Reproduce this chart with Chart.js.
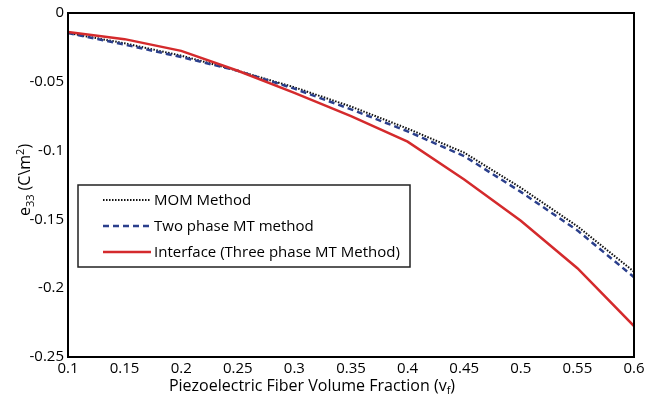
<!DOCTYPE html>
<html>
<head>
<meta charset="utf-8">
<script src="https://cdn.jsdelivr.net/npm/chart.js@4"></script>
<style>
  html, body { margin: 0; padding: 0; background: #fff; }
</style>
</head>
<body>
<canvas id="canvas" width="656" height="400"></canvas>
<script>
const ctx = document.getElementById("canvas");

// volume fraction values (x)
const fractions = [0.1, 0.15, 0.2, 0.25, 0.3, 0.35, 0.4, 0.45, 0.5, 0.55, 0.6];

// e33 values
const momMethod = [-0.0145, -0.022, -0.031, -0.042, -0.054, -0.068, -0.084, -0.1015, -0.127, -0.155, -0.188];
const twoPhaseMT = [-0.0145, -0.023, -0.032, -0.042, -0.055, -0.070, -0.086, -0.104, -0.130, -0.158, -0.192];
const interfaceMT = [-0.0138, -0.019, -0.0275, -0.042, -0.058, -0.075, -0.0935, -0.121, -0.151, -0.1855, -0.2275];

const seriesNames = ["MOM Method", "Two phase MT method", "Interface (Three phase MT Method)"];

const FONT = "'Open Sans', sans-serif";

function toPoints(values) {
  return values.map((v, i) => ({ x: fractions[i], y: v }));
}

const lineStyles = [
  { color: "#111111", width: 2, dash: [1.5, 1.5] },
  { color: "#2b3f8c", width: 2.5, dash: [6, 4] },
  { color: "#d42a2c", width: 2.5, dash: [] },
];

const datasets = [momMethod, twoPhaseMT, interfaceMT].map((vals, i) => ({
  label: seriesNames[i],
  data: toPoints(vals),
  borderColor: lineStyles[i].color,
  borderWidth: lineStyles[i].width,
  borderDash: lineStyles[i].dash,
  pointRadius: 0,
  tension: 0,
  fill: false,
}));
// draw red on bottom, black dotted on top
datasets.reverse();

const frameAndLabels = {
  id: "frameAndLabels",
  afterDraw(chart) {
    const { ctx, chartArea: { left, right, top, bottom } } = chart;
    ctx.save();
    // plot frame
    ctx.strokeStyle = "#000";
    ctx.lineWidth = 2;
    ctx.strokeRect(left, top, right - left, bottom - top);

    // legend box
    const lx = 78, ly = 185, lw = 332, lh = 82;
    ctx.fillStyle = "#fff";
    ctx.fillRect(lx, ly, lw, lh);
    ctx.lineWidth = 1.5;
    ctx.strokeStyle = "#222";
    ctx.strokeRect(lx, ly, lw, lh);
    const rowY = [200, 226, 252];
    ctx.font = "15px " + FONT;
    ctx.textBaseline = "middle";
    ctx.textAlign = "left";
    seriesNames.forEach((name, i) => {
      const st = lineStyles[i];
      ctx.beginPath();
      ctx.setLineDash(st.dash);
      ctx.strokeStyle = st.color;
      ctx.lineWidth = st.width;
      ctx.moveTo(103, rowY[i]);
      ctx.lineTo(151, rowY[i]);
      ctx.stroke();
      ctx.setLineDash([]);
      ctx.fillStyle = "#000";
      ctx.fillText(name, 154, rowY[i] + 1);
    });

    // x axis title with subscript
    ctx.fillStyle = "#000";
    ctx.textBaseline = "alphabetic";
    const xt1 = "Piezoelectric Fiber Volume Fraction (v";
    const xt2 = ")";
    ctx.font = "16px " + FONT;
    const w1 = ctx.measureText(xt1).width;
    ctx.font = "11px " + FONT;
    const ws = ctx.measureText("f").width;
    ctx.font = "16px " + FONT;
    const w2 = ctx.measureText(xt2).width;
    const sx = 312 - (w1 + ws + w2) / 2;
    const by = 391;
    ctx.fillText(xt1, sx, by);
    ctx.font = "11px " + FONT;
    ctx.fillText("f", sx + w1, by + 3);
    ctx.font = "16px " + FONT;
    ctx.fillText(xt2, sx + w1 + ws, by);

    // y axis title, rotated
    ctx.translate(24, 180);
    ctx.rotate(-Math.PI / 2);
    const parts = [
      { t: "e", f: 16, dy: 0 },
      { t: "33", f: 11, dy: 4 },
      { t: " (C\\m", f: 16, dy: 0 },
      { t: "2", f: 11, dy: -6 },
      { t: ")", f: 16, dy: 0 },
    ];
    let total = 0;
    parts.forEach((p) => {
      ctx.font = p.f + "px " + FONT;
      p.w = ctx.measureText(p.t).width;
      total += p.w;
    });
    let px = -total / 2;
    parts.forEach((p) => {
      ctx.font = p.f + "px " + FONT;
      ctx.fillText(p.t, px, 6 + p.dy);
      px += p.w;
    });
    ctx.restore();
  },
};

const fmt = (v) => String(Number(v.toFixed(2)));

const config = {
  type: "line",
  data: { datasets: datasets },
  plugins: [frameAndLabels],
  options: {
    responsive: false,
    animation: false,
    layout: { padding: { left: 0, right: 22, top: 12, bottom: 0 } },
    plugins: {
      legend: { display: false },
      tooltip: { enabled: false },
    },
    scales: {
      x: {
        type: "linear",
        min: 0.1,
        max: 0.6,
        afterFit(scale) { scale.height = 43; },
        grid: { display: false, drawTicks: false },
        border: { display: false },
        ticks: {
          stepSize: 0.05,
          color: "#000",
          padding: 3,
          font: { size: 15, family: FONT },
          callback: fmt,
          maxRotation: 0,
          autoSkip: false,
        },
      },
      y: {
        min: -0.25,
        max: 0,
        afterFit(scale) { scale.width = 68; },
        grid: { display: false, drawTicks: false },
        border: { display: false },
        ticks: {
          stepSize: 0.05,
          color: "#000",
          padding: 4,
          font: { size: 15, family: FONT },
          callback: fmt,
        },
      },
    },
  },
};

new Chart(ctx, config);
</script>
</body>
</html>
